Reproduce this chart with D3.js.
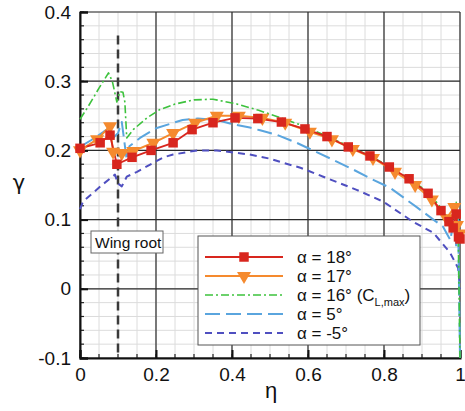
<!DOCTYPE html>
<html><head><meta charset="utf-8">
<script src="https://cdn.jsdelivr.net/npm/d3@7"></script>
<style>
body{margin:0;background:#fff}
svg{display:block;font-family:"Liberation Sans",Arial,Helvetica,sans-serif}
</style></head>
<body><svg id="chart" width="465" height="411"></svg>
<script>
// ---- data ----
const xTicks = [0, 0.2, 0.4, 0.6, 0.8, 1];
const xTickLabels = ["0", "0.2", "0.4", "0.6", "0.8", "1"];
const yTicks = [-0.1, 0, 0.1, 0.2, 0.3, 0.4];
const yTickLabels = ["-0.1", "0", "0.1", "0.2", "0.3", "0.4"];
const seriesNames = ["α = 18°", "α = 17°", "α = 16° (C", "α = 5°", "α = -5°"];
const wingRootEta = 0.1;
const wingRootTop = 0.366;

const eta18 = [0,0.053,0.079,0.097,0.137,0.187,0.245,0.295,0.35,0.408,0.468,0.53,0.592,0.65,0.706,0.763,0.814,0.866,0.916,0.95,0.971,0.982,0.99,0.996,1.0];
const gamma18 = [0.203,0.211,0.222,0.180,0.19,0.2,0.211,0.23,0.24,0.247,0.246,0.241,0.231,0.22,0.205,0.192,0.176,0.159,0.138,0.113,0.097,0.088,0.108,0.075,0.072];

const eta17 = [0,0.045,0.079,0.087,0.11,0.14,0.193,0.245,0.303,0.36,0.418,0.48,0.54,0.605,0.663,0.718,0.771,0.829,0.882,0.926,0.965,0.985,0.992,1.0];
const gamma17 = [0.2,0.216,0.235,0.198,0.196,0.199,0.211,0.225,0.24,0.25,0.25,0.247,0.24,0.227,0.216,0.202,0.189,0.169,0.15,0.129,0.102,0.118,0.092,0.08];

const eta16 = [0,0.02,0.05,0.075,0.085,0.097,0.105,0.113,0.118,0.123,0.14,0.176,0.21,0.25,0.3,0.35,0.413,0.47,0.518,0.58,0.64,0.7,0.76,0.81,0.86,0.9,0.94,0.965,0.98,0.99,0.995,1.0];
const gamma16 = [0.245,0.262,0.29,0.312,0.3,0.27,0.285,0.284,0.27,0.218,0.23,0.247,0.259,0.267,0.273,0.274,0.267,0.258,0.249,0.237,0.223,0.208,0.193,0.178,0.161,0.146,0.124,0.105,0.095,0.125,0.09,-0.1];

const eta5 = [0,0.03,0.06,0.075,0.087,0.1,0.11,0.123,0.13,0.158,0.2,0.27,0.31,0.36,0.4,0.447,0.474,0.52,0.57,0.605,0.66,0.72,0.77,0.816,0.886,0.93,0.955,0.975,0.985,0.99,0.995,1.0];
const gamma5 = [0.205,0.215,0.226,0.232,0.218,0.225,0.241,0.186,0.206,0.218,0.232,0.244,0.246,0.244,0.238,0.233,0.229,0.222,0.211,0.202,0.188,0.172,0.158,0.146,0.118,0.1,0.09,0.07,0.11,0.06,0.1,-0.1];

const etaM5 = [0,0.008,0.058,0.092,0.1,0.11,0.123,0.15,0.193,0.22,0.245,0.308,0.36,0.447,0.5,0.535,0.58,0.64,0.728,0.798,0.876,0.93,0.974,0.995,1.0];
const gammaM5 = [0.115,0.126,0.15,0.165,0.152,0.148,0.162,0.169,0.182,0.19,0.194,0.2,0.2,0.194,0.188,0.182,0.175,0.162,0.143,0.126,0.097,0.081,0.052,0.03,0.0];

// ---- chart ----
const svg = d3.select("#chart");
const L = 80, R = 460, T = 12, B = 358;
const x = d3.scaleLinear().domain([0, 1]).range([L, R]);
const y = d3.scaleLinear().domain([-0.1, 0.4]).range([B, T]);

// minor grid
const xMinor = d3.range(0, 1.0001, 0.05);
const yMinor = d3.range(-0.1, 0.4001, 0.02);
const g = svg.append("g");
g.selectAll(".xmin").data(xMinor).join("line")
  .attr("x1", d => x(d)).attr("x2", d => x(d)).attr("y1", T).attr("y2", B)
  .attr("stroke", "#dcdcdc").attr("stroke-width", 1);
g.selectAll(".ymin").data(yMinor).join("line")
  .attr("y1", d => y(d)).attr("y2", d => y(d)).attr("x1", L).attr("x2", R)
  .attr("stroke", "#dcdcdc").attr("stroke-width", 1);
// major grid
g.selectAll(".xmaj").data(xTicks).join("line")
  .attr("x1", d => x(d)).attr("x2", d => x(d)).attr("y1", T).attr("y2", B)
  .attr("stroke", "#2a2a2a").attr("stroke-width", 1.2);
g.selectAll(".ymaj").data(yTicks).join("line")
  .attr("y1", d => y(d)).attr("y2", d => y(d)).attr("x1", L).attr("x2", R)
  .attr("stroke", "#2a2a2a").attr("stroke-width", 1.2);

// minor ticks (inward)
g.selectAll(".xmt").data(xMinor).join("line")
  .attr("x1", d => x(d)).attr("x2", d => x(d)).attr("y1", B).attr("y2", B - 4)
  .attr("stroke", "#222").attr("stroke-width", 1.2);
g.selectAll(".ymt").data(yMinor).join("line")
  .attr("y1", d => y(d)).attr("y2", d => y(d)).attr("x1", L).attr("x2", L + 4)
  .attr("stroke", "#222").attr("stroke-width", 1.2);

// axes
const xAxis = d3.axisBottom(x).tickValues(xTicks).tickFormat((d, i) => xTickLabels[i]).tickSize(-8).tickPadding(7);
const yAxis = d3.axisLeft(y).tickValues(yTicks).tickFormat((d, i) => yTickLabels[i]).tickSize(-8).tickPadding(14);
const gx = svg.append("g").attr("transform", `translate(0,${B})`).call(xAxis);
const gy = svg.append("g").attr("transform", `translate(${L},0)`).call(yAxis);
[gx, gy].forEach(a => {
  a.select(".domain").attr("stroke", "#111").attr("stroke-width", 2);
  a.selectAll(".tick line").attr("stroke", "#111").attr("stroke-width", 2);
  a.selectAll(".tick text").attr("font-size", 19).attr("fill", "#111")
   .attr("font-family", '"Liberation Sans",Arial,sans-serif');
});
gy.selectAll(".tick text").attr("dx", 5);
gx.selectAll(".tick text").attr("dy", "0.85em");

// axis titles
svg.append("text").attr("x", 271).attr("y", 398).attr("text-anchor", "middle")
  .attr("font-size", 22).attr("fill", "#111").text("η");
svg.append("text").attr("x", 19).attr("y", 190).attr("text-anchor", "middle")
  .attr("font-family", '"DejaVu Sans",sans-serif')
  .attr("font-size", 21).attr("fill", "#111").text("γ");

// wing root line
svg.append("line").attr("x1", x(wingRootEta)).attr("x2", x(wingRootEta))
  .attr("y1", y(wingRootTop)).attr("y2", B)
  .attr("stroke", "#3a3a3a").attr("stroke-width", 2.5).attr("stroke-dasharray", "9,5");

const zip = (a, b) => a.map((v, i) => [v, b[i]]);
const line = d3.line().x(d => x(d[0])).y(d => y(d[1]));

const series = [
  {name: "m5", data: zip(etaM5, gammaM5), color: "#4f4fc0", width: 2, dash: "7,5"},
  {name: "5", data: zip(eta5, gamma5), color: "#5aa5de", width: 2, dash: "15,6"},
  {name: "16", data: zip(eta16, gamma16), color: "#3dc23d", width: 1.6, dash: "8,3,2,3"},
  {name: "17", data: zip(eta17, gamma17), color: "#f58a2e", width: 2, dash: null, marker: "tri"},
  {name: "18", data: zip(eta18, gamma18), color: "#d8261e", width: 1.8, dash: null, marker: "sq"}
];

const plot = svg.append("g");
series.forEach(s => {
  plot.append("path").datum(s.data).attr("d", line).attr("fill", "none")
    .attr("stroke", s.color).attr("stroke-width", s.width)
    .attr("stroke-dasharray", s.dash).attr("stroke-linejoin", "round");
});
const sq = d3.symbol().type(d3.symbolSquare).size(90);
const tri = d3.symbol().type(d3.symbolTriangle).size(85);
function markers(s) {
  plot.selectAll(".m" + s.name).data(s.data).join("path")
    .attr("d", s.marker === "sq" ? sq : tri)
    .attr("transform", d => `translate(${x(d[0])},${y(d[1])})` + (s.marker === "tri" ? " rotate(180)" : ""))
    .attr("fill", s.color);
}
markers(series[3]);
markers(series[4]);

// wing root label
svg.append("rect").attr("x", 91).attr("y", 231).attr("width", 72).attr("height", 22)
  .attr("fill", "#fff").attr("stroke", "#666").attr("stroke-width", 1);
svg.append("text").attr("x", 95).attr("y", 248).attr("font-size", 15.5).attr("fill", "#111").text("Wing root");

// legend
const lg = svg.append("g");
lg.append("rect").attr("x", 198).attr("y", 236).attr("width", 222).attr("height", 109)
  .attr("fill", "#fff").attr("stroke", "#555").attr("stroke-width", 1);
const legOrder = [series[4], series[3], series[2], series[1], series[0]];
const rowY = d3.scaleLinear().domain([0, 4]).range([257, 333]);
legOrder.forEach((s, i) => {
  const yy = rowY(i);
  lg.append("line").attr("x1", 205).attr("x2", 283).attr("y1", yy).attr("y2", yy)
    .attr("stroke", s.color).attr("stroke-width", s.width).attr("stroke-dasharray", s.dash);
  if (s.marker) {
    lg.append("path").attr("d", s.marker === "sq" ? sq : tri)
      .attr("transform", `translate(244,${yy})` + (s.marker === "tri" ? " rotate(180)" : ""))
      .attr("fill", s.color);
  }
  const t = lg.append("text").attr("x", 297).attr("y", yy + 6).attr("font-size", 17).attr("fill", "#111")
    .text(seriesNames[i]);
  if (i === 2) {
    t.append("tspan").attr("font-size", 11).attr("dy", 5).text("L,max");
    t.append("tspan").attr("dy", -5).text(")");
  }
});
</script></body></html>
